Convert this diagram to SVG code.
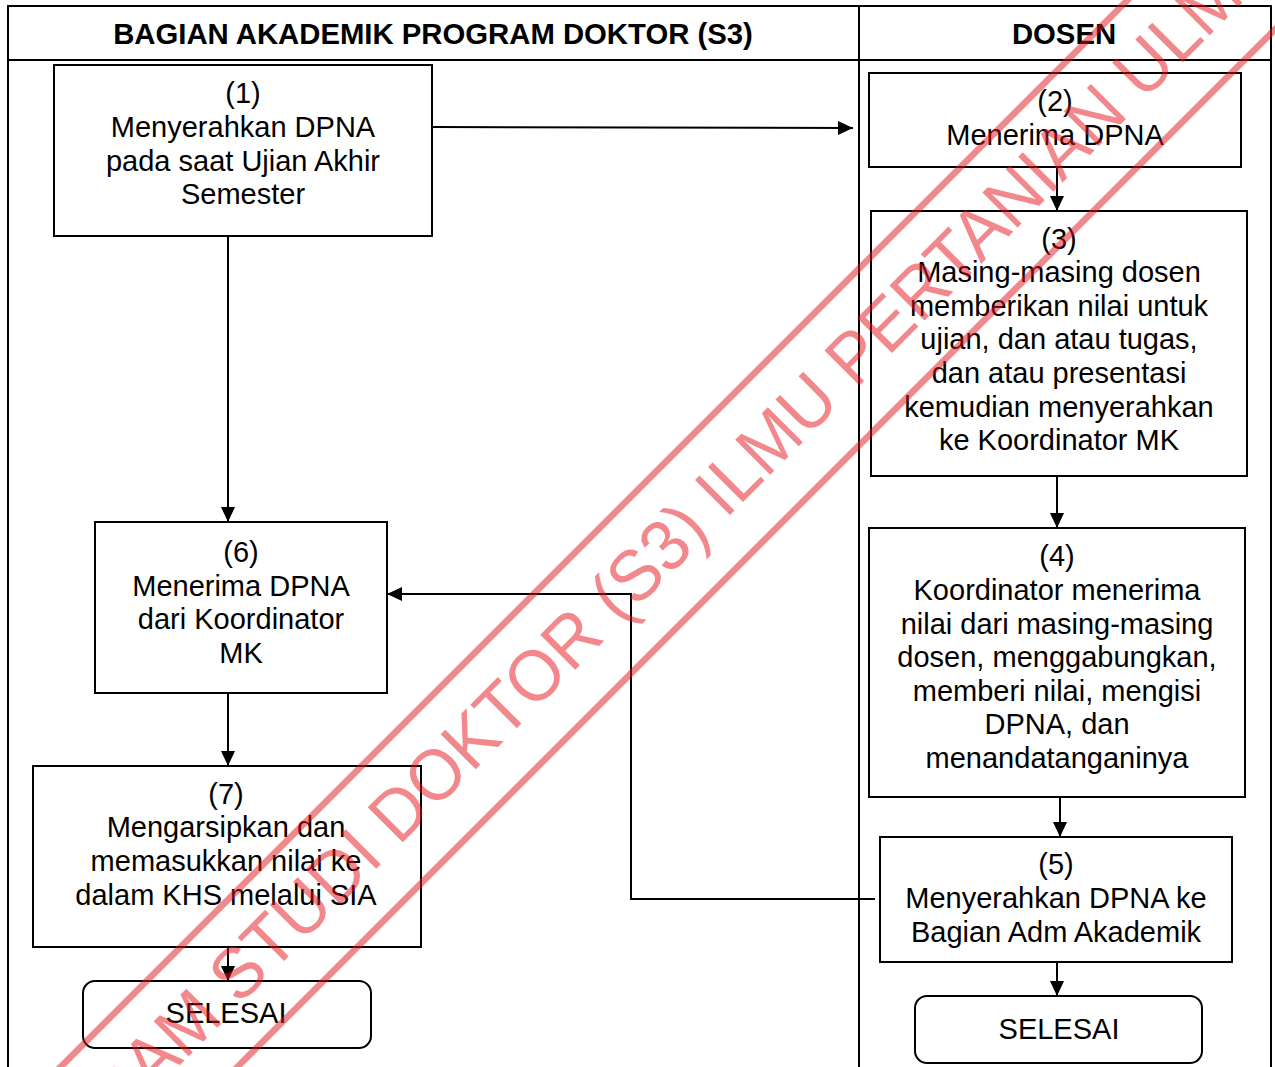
<svg xmlns="http://www.w3.org/2000/svg" width="1275" height="1067" viewBox="0 0 1275 1067">
  <style>
    .frame { fill: none; stroke: #000; stroke-width: 2; }
    .box { fill: #fff; stroke: #000; stroke-width: 2; }
    .lbl { font-family: "Liberation Sans", Arial, sans-serif; font-size: 29px; fill: #000; text-anchor: middle; }
    .hdr { font-family: "Liberation Sans", Arial, sans-serif; font-size: 29.3px; font-weight: bold; fill: #000; text-anchor: middle; }
    .conn { fill: none; stroke: #000; stroke-width: 2; }
    .wm { font-family: "Liberation Sans", Arial, sans-serif; font-size: 72px; fill: #e8141c; }
    .wmline { stroke: #e8141c; stroke-width: 6.5; }
  </style>
  <defs>
    <marker id="arrow" viewBox="0 0 15 14" refX="15" refY="7" markerWidth="15" markerHeight="14" markerUnits="userSpaceOnUse" orient="auto">
      <path d="M0,0 L15,7 L0,14 z" fill="#000"/>
    </marker>
  </defs>

  <rect width="1275" height="1067" fill="#fff"/>

  <!-- swimlane frame -->
  <g id="lanes">
    <path class="frame" d="M8,1067 V6 H1271 V1067 M8,60 H1271 M859,6 V1067"/>
    <text class="hdr" x="433" y="44">BAGIAN AKADEMIK PROGRAM DOKTOR (S3)</text>
    <text class="hdr" x="1064" y="44">DOSEN</text>
  </g>

  <!-- connectors -->
  <g id="connectors">
    <line class="conn" x1="433" y1="127" x2="853" y2="128" marker-end="url(#arrow)"/>
    <line class="conn" x1="228" y1="236" x2="228" y2="522" marker-end="url(#arrow)"/>
    <line class="conn" x1="1057" y1="167" x2="1057" y2="211" marker-end="url(#arrow)"/>
    <line class="conn" x1="1057" y1="476" x2="1057" y2="528" marker-end="url(#arrow)"/>
    <line class="conn" x1="1060" y1="797" x2="1060" y2="837" marker-end="url(#arrow)"/>
    <line class="conn" x1="1057" y1="962" x2="1057" y2="996" marker-end="url(#arrow)"/>
    <polyline class="conn" points="875,899 631,899 631,594 387,594" marker-end="url(#arrow)"/>
    <line class="conn" x1="228" y1="693" x2="228" y2="766" marker-end="url(#arrow)"/>
    <line class="conn" x1="228" y1="947" x2="228" y2="981" marker-end="url(#arrow)"/>
  </g>

  <!-- process steps -->
  <g id="step1">
    <rect class="box" x="54" y="65" width="378" height="171"/>
    <text class="lbl"><tspan x="243" y="103">(1)</tspan><tspan x="243" y="137">Menyerahkan DPNA</tspan><tspan x="243" y="170.5">pada saat Ujian Akhir</tspan><tspan x="243" y="204">Semester</tspan></text>
  </g>

  <g id="step2">
    <rect class="box" x="869" y="73" width="372" height="94"/>
    <text class="lbl"><tspan x="1055" y="111">(2)</tspan><tspan x="1055" y="145">Menerima DPNA</tspan></text>
  </g>

  <g id="step3">
    <rect class="box" x="871" y="211" width="376" height="265"/>
    <text class="lbl"><tspan x="1059" y="249">(3)</tspan><tspan x="1059" y="282">Masing-masing dosen</tspan><tspan x="1059" y="315.5">memberikan nilai untuk</tspan><tspan x="1059" y="349">ujian, dan atau tugas,</tspan><tspan x="1059" y="383">dan atau presentasi</tspan><tspan x="1059" y="417">kemudian menyerahkan</tspan><tspan x="1059" y="450">ke Koordinator MK</tspan></text>
  </g>

  <g id="step4">
    <rect class="box" x="869" y="528" width="376" height="269"/>
    <text class="lbl"><tspan x="1057" y="566">(4)</tspan><tspan x="1057" y="600">Koordinator menerima</tspan><tspan x="1057" y="633.5">nilai dari masing-masing</tspan><tspan x="1057" y="667">dosen, menggabungkan,</tspan><tspan x="1057" y="700.5">memberi nilai, mengisi</tspan><tspan x="1057" y="734">DPNA, dan</tspan><tspan x="1057" y="768">menandatanganinya</tspan></text>
  </g>

  <g id="step5">
    <rect class="box" x="880" y="837" width="352" height="125"/>
    <text class="lbl"><tspan x="1056" y="874">(5)</tspan><tspan x="1056" y="908">Menyerahkan DPNA ke</tspan><tspan x="1056" y="942">Bagian Adm Akademik</tspan></text>
  </g>

  <g id="end-dosen">
    <rect class="box" x="915" y="996" width="287" height="67" rx="12" ry="12"/>
    <text class="lbl" x="1059" y="1039">SELESAI</text>
  </g>

  <g id="step6">
    <rect class="box" x="95" y="522" width="292" height="171"/>
    <text class="lbl"><tspan x="241" y="562">(6)</tspan><tspan x="241" y="596">Menerima DPNA</tspan><tspan x="241" y="629">dari Koordinator</tspan><tspan x="241" y="663">MK</tspan></text>
  </g>

  <g id="step7">
    <rect class="box" x="33" y="766" width="388" height="181"/>
    <text class="lbl"><tspan x="226" y="804">(7)</tspan><tspan x="226" y="837">Mengarsipkan dan</tspan><tspan x="226" y="871">memasukkan nilai ke</tspan><tspan x="226" y="905">dalam KHS melalui SIA</tspan></text>
  </g>

  <g id="end-akademik">
    <rect class="box" x="83" y="981" width="288" height="67" rx="12" ry="12"/>
    <text class="lbl" x="226" y="1023">SELESAI</text>
  </g>

  <!-- diagonal stamp across the sheet -->
  <g id="stamp" opacity="0.5" transform="translate(610,635) rotate(-45)">
    <line class="wmline" x1="-1000" y1="-83" x2="1000" y2="-83"/>
    <line class="wmline" x1="-1000" y1="42" x2="1000" y2="42"/>
    <text class="wm" x="0" y="0" text-anchor="middle" textLength="1800" lengthAdjust="spacingAndGlyphs">PROGRAM STUDI DOKTOR (S3) ILMU PERTANIAN ULM</text>
  </g>
</svg>
